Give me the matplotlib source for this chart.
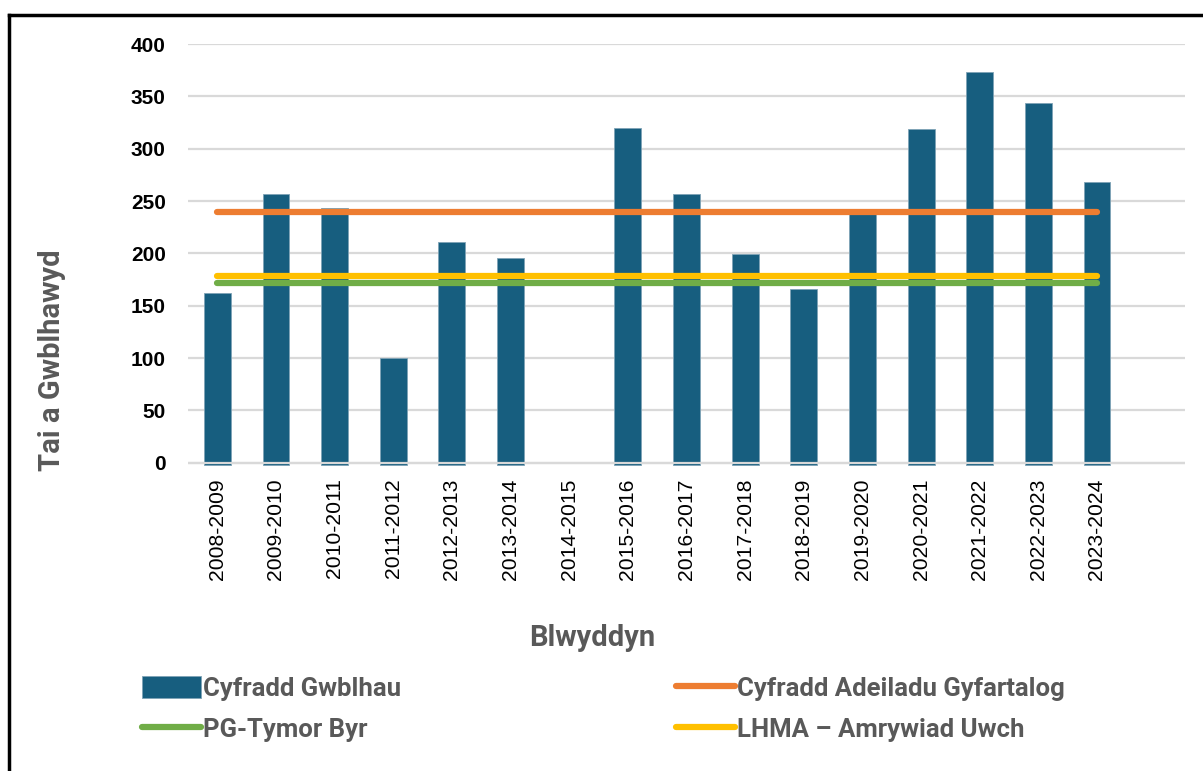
import numpy as np
import matplotlib
matplotlib.use("Agg")
from matplotlib import pyplot as plt
from matplotlib.lines import Line2D
from matplotlib.patches import Patch

years = ["2008-2009", "2009-2010", "2010-2011", "2011-2012", "2012-2013",
         "2013-2014", "2014-2015", "2015-2016", "2016-2017", "2017-2018",
         "2018-2019", "2019-2020", "2020-2021", "2021-2022", "2022-2023",
         "2023-2024"]
completions = [162, 257, 243, 100, 211, 196, np.nan, 320, 257, 199,
               166, 239, 319, 373, 344, 268]
avg_build_rate = 240
pg_short_term = 172
lhma_high = 178

bar_color = "#175E7F"
grey_text = "#595959"
sink = 2.5  # bars poke slightly below the zero line

fig = plt.figure(figsize=(12.03, 7.71), dpi=100)
ax = fig.add_axes([0.1563, 0.3956, 0.8287, 0.5473])

x = np.arange(len(years))
ax.bar(x, np.array(completions) + sink, width=0.46, bottom=-sink,
       color=bar_color, edgecolor="#7FA3B6", linewidth=0.6, zorder=2)
ax.axhline(0, color="#D9D9D9", lw=1.6, zorder=3)

line_x = [x[0], x[-1]]
ax.plot(line_x, [avg_build_rate] * 2, color="#ED7D31", lw=4.5,
        solid_capstyle="round", zorder=4)
ax.plot(line_x, [lhma_high] * 2, color="#FFC000", lw=4.5,
        solid_capstyle="round", zorder=4)
ax.plot(line_x, [pg_short_term] * 2, color="#70AD47", lw=4.5,
        solid_capstyle="round", zorder=4)

ax.set_xlim(-0.5, len(years) + 0.5)
ax.set_ylim(-3, 400)
ax.set_yticks(range(0, 401, 50))
ax.set_xticks(x)
ax.set_xticklabels(years, rotation=90, fontsize=15.2, family="Liberation Sans")
for lab in ax.get_yticklabels():
    lab.set_fontsize(15)
    lab.set_fontweight("bold")
    lab.set_family("Liberation Sans")
ax.tick_params(axis="y", length=0, pad=16)
ax.tick_params(axis="x", length=0, pad=9)
ax.grid(axis="y", color="#D9D9D9", lw=1.6, zorder=0)
ax.set_axisbelow(True)
for s in ax.spines.values():
    s.set_visible(False)

fig.text(0.043, 0.533, "Tai a Gwblhawyd", rotation=90, ha="center",
         va="center", fontsize=21, fontweight="bold", color=grey_text,
         family="Roboto")
fig.text(0.492, 0.1725, "Blwyddyn", ha="center", va="center", fontsize=21,
         fontweight="bold", color=grey_text, family="Roboto")

handles = [
    Patch(facecolor=bar_color, edgecolor="#7FA3B6", linewidth=0.6),
    Line2D([], [], color="#70AD47", lw=4.5, solid_capstyle="round"),
    Line2D([], [], color="#ED7D31", lw=4.5, solid_capstyle="round"),
    Line2D([], [], color="#FFC000", lw=4.5, solid_capstyle="round"),
]
labels = ["Cyfradd Gwblhau", "PG-Tymor Byr",
          "Cyfradd Adeiladu Gyfartalog", "LHMA \u2013 Amrywiad Uwch"]
leg = fig.legend(handles, labels, ncol=2, loc="upper left",
                 bbox_to_anchor=(0.1073, 0.14), frameon=False, borderpad=0,
                 handlelength=2.3, handleheight=0.95, handletextpad=0.08,
                 columnspacing=10.7, labelspacing=0.62,
                 prop={"family": "Roboto", "weight": "bold", "size": 18.5})
for t in leg.get_texts():
    t.set_color(grey_text)

# outer border (top and left only)
fig.add_artist(Line2D([0.0075, 1.0], [0.9805, 0.9805], color="black", lw=2.5,
                      transform=fig.transFigure))
fig.add_artist(Line2D([0.0075, 0.0075], [0.0, 0.9805], color="black", lw=2.5,
                      transform=fig.transFigure))

fig.savefig("out.png", dpi=100)
